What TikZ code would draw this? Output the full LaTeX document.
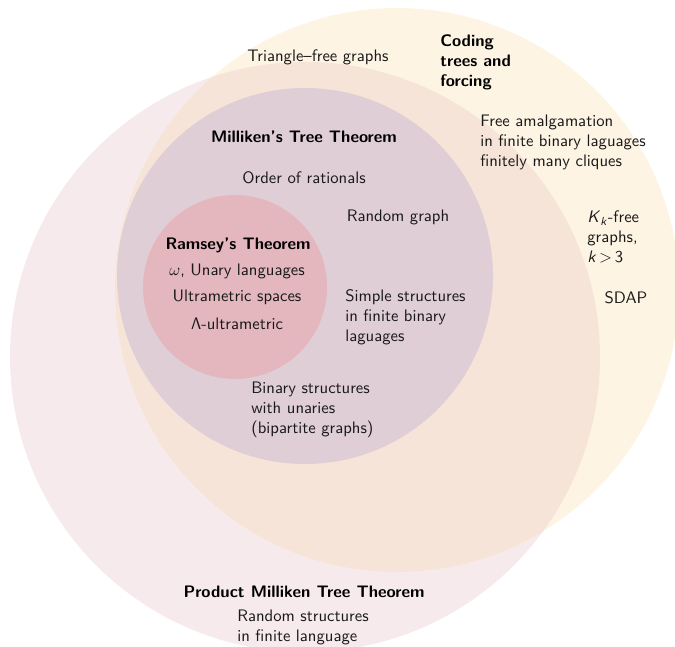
\documentclass[tikz,border=0pt]{standalone}
\usepackage{tikz}

\definecolor{pinkfill}{RGB}{246,234,236}
\definecolor{creamfill}{RGB}{254,244,228}
\definecolor{peachfill}{RGB}{245,228,215}
\definecolor{lilacfill}{RGB}{224,206,214}
\definecolor{rosefill}{RGB}{228,183,191}

\tikzset{
  lbl/.style={font=\sffamily, inner sep=0pt, text=black!90},
  ttl/.style={font=\sffamily\bfseries, inner sep=0pt, text=black},
  lblock/.style={lbl, align=left, anchor=west},
}

\begin{document}
\begin{tikzpicture}[x=0.6pt, y=-0.6pt]
  \useasboundingbox (0,0) rectangle (675,647);

  % outer sets
  \fill[pinkfill] (305,357) circle [radius=295];
  \fill[creamfill] (397,290) circle [radius=282];
  \begin{scope}
    \clip (305,357) circle [radius=295];
    \fill[peachfill] (397,290) circle [radius=282];
  \end{scope}
  % inner sets
  \fill[lilacfill] (305,276) circle [radius=188];
  \fill[rosefill] (235,287) circle [radius=92];

  % labels of the coding-trees set
  \node[lbl] (tri) at (318,57) {Triangle--free graphs};
  \node[ttl, align=left, anchor=west] (coding) at (440,62) {Coding\\trees and\\forcing};
  \node[lblock] (freeam) at (480,142) {Free amalgamation\\in finite binary laguages\\finitely many cliques};
  \node[lblock] (kfree) at (587,237) {\textit{K}\textsubscript{\textit{k}}-free\\graphs,\\\textit{k}\,$>$\,3};
  \node[lbl] (sdap) at (626,298) {SDAP};

  % labels of the Milliken set
  \node[ttl] (mtt) at (304,137) {Milliken's Tree Theorem};
  \node[lbl] (rat) at (304,178) {Order of rationals};
  \node[lbl] (rg) at (398,217) {Random graph};
  \node[lblock] (simple) at (345,317) {Simple structures\\in finite binary\\laguages};
  \node[lblock] (binary) at (251,410) {Binary structures\\with unaries\\(bipartite graphs)};

  % labels of the Ramsey set
  \node[ttl] (ramsey) at (238,245) {Ramsey's Theorem};
  \node[lbl] (unary) at (237,271) {$\omega$, Unary languages};
  \node[lbl] (ultra) at (237,297) {Ultrametric spaces};
  \node[lbl] (lambda) at (237,324) {$\mathsf{\Lambda}$-ultrametric};

  % labels of the product set
  \node[ttl] (pmtt) at (304,592) {Product Milliken Tree Theorem};
  \node[lblock] (randstr) at (237,627) {Random structures\\in finite language};
\end{tikzpicture}
\end{document}
